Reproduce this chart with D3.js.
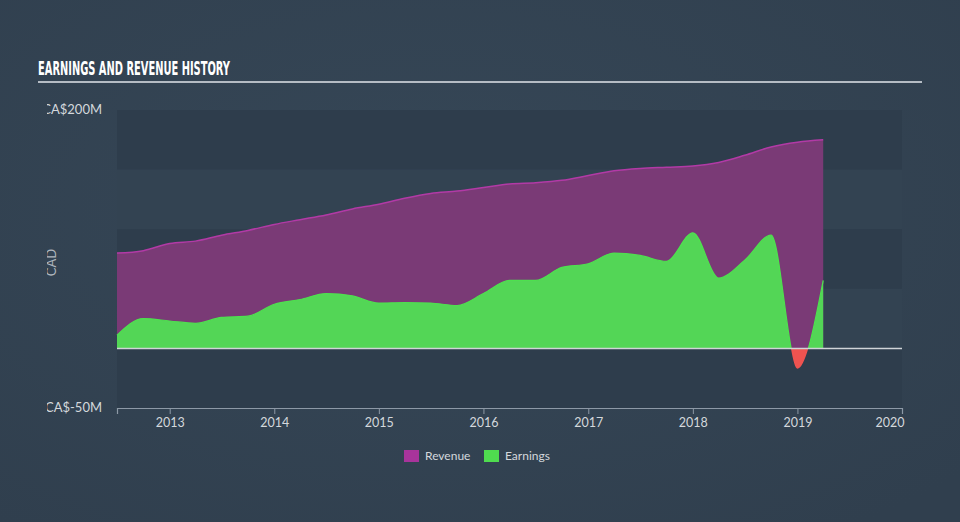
<!DOCTYPE html>
<html><head><meta charset="utf-8">
<script src="https://cdn.jsdelivr.net/npm/d3@7"></script>
<style>html,body{margin:0;padding:0;background:#344454;}svg{display:block;}</style>
</head><body>
<svg id="c" width="960" height="522"></svg>
<script>
const dates = ["2012-07-01","2012-10-01","2013-01-01","2013-04-01","2013-07-01","2013-10-01",
"2014-01-01","2014-04-01","2014-07-01","2014-10-01","2015-01-01","2015-04-01","2015-07-01","2015-10-01",
"2016-01-01","2016-04-01","2016-07-01","2016-10-01","2017-01-01","2017-04-01","2017-07-01","2017-10-01",
"2018-01-01","2018-04-01","2018-07-01","2018-10-01","2019-01-01","2019-04-01"];
const revenue = [80,82,88,90,95,99,104,108,112,117,121,126,130,132,135,138,139,141,145,149,151,152,153,156,162,169,173,175];
const earnings = [11,25,23,21,26,27,37,41,46,44,38,38.5,38,36,46,57,57,68,71,80,78,73,97,59,74,95,-17,57];
const yTicks = [200,-50];
const yTickLabels = ["CA$200M","CA$-50M"];
const xTickYears = [2013,2014,2015,2016,2017,2018,2019,2020];
const bandEdges = [200,150,100,50,0,-50];

const svg = d3.select("#c");
const W=960,H=522;
const L=117,R=902,T=110,B=408;
const parse = d3.timeParse("%Y-%m-%d");
const data = dates.map((d,i)=>({date:parse(d),rev:revenue[i],earn:earnings[i]}));

const defs = svg.append("defs");
const g0 = defs.append("radialGradient").attr("id","bg").attr("cx","45%").attr("cy","40%").attr("r","75%");
g0.append("stop").attr("offset","0%").attr("stop-color","#364757");
g0.append("stop").attr("offset","100%").attr("stop-color","#303f4e");
svg.append("rect").attr("width",W).attr("height",H).attr("fill","url(#bg)");

const x = d3.scaleTime().domain([new Date(2012,6,1),new Date(2020,0,1)]).range([L,R]);
const y = d3.scaleLinear().domain([-50,200]).range([B,T]);

// bands
for(let i=0;i<bandEdges.length-1;i++){
  svg.append("rect").attr("x",L).attr("width",R-L)
    .attr("y",y(bandEdges[i])).attr("height",y(bandEdges[i+1])-y(bandEdges[i]))
    .attr("fill", i%2===0 ? "#2e3d4c" : "#334352");
}

// title
svg.append("text").attr("x",38).attr("y",75).text("EARNINGS AND REVENUE HISTORY")
  .attr("fill","#ffffff").attr("font-family","'Liberation Sans Narrow','DejaVu Sans Condensed',sans-serif")
  .attr("font-weight","bold").attr("font-size",19)
  .attr("textLength",192).attr("lengthAdjust","spacingAndGlyphs");
svg.append("line").attr("x1",38).attr("x2",922).attr("y1",82).attr("y2",82)
  .attr("stroke","#b5bcc4").attr("stroke-width",2);

// revenue
const curve = d3.curveMonotoneX;
const areaRev = d3.area().x(d=>x(d.date)).y0(y(0)).y1(d=>y(d.rev)).curve(curve);
const lineRev = d3.line().x(d=>x(d.date)).y(d=>y(d.rev)).curve(curve);
svg.append("path").datum(data).attr("d",areaRev).attr("fill","#7a3a76");
svg.append("path").datum(data).attr("d",lineRev).attr("fill","none").attr("stroke","#b23aa6").attr("stroke-width",1.5);

// earnings
defs.append("clipPath").attr("id","pos").append("rect").attr("x",0).attr("y",0).attr("width",W).attr("height",y(0));
defs.append("clipPath").attr("id","neg").append("rect").attr("x",0).attr("y",y(0)).attr("width",W).attr("height",H-y(0));
const areaE = d3.area().x(d=>x(d.date)).y0(y(0)).y1(d=>y(d.earn)).curve(curve);
const lineE = d3.line().x(d=>x(d.date)).y(d=>y(d.earn)).curve(curve);
svg.append("path").datum(data).attr("d",areaE).attr("fill","#53d656").attr("clip-path","url(#pos)");
svg.append("path").datum(data).attr("d",lineE).attr("fill","none").attr("stroke","#4ee04f").attr("stroke-width",1.2).attr("clip-path","url(#pos)");
svg.append("path").datum(data).attr("d",areaE).attr("fill","#ee5350").attr("clip-path","url(#neg)");

// zero line
svg.append("line").attr("x1",L).attr("x2",R).attr("y1",y(0)).attr("y2",y(0)).attr("stroke","#d0d4d8").attr("stroke-width",1.5);

// x axis
const xAxis = d3.axisBottom(x).tickValues(xTickYears.map(yv=>new Date(yv,0,1))).tickFormat(d3.timeFormat("%Y")).tickSize(6).tickPadding(4);
const gx = svg.append("g").attr("transform",`translate(0,${B})`).call(xAxis);
gx.select(".domain").attr("stroke","#8d99a6").attr("stroke-width",1.2);
gx.selectAll(".tick line").attr("stroke","#8d99a6");
gx.selectAll(".tick text").attr("fill","#d4d8dc").attr("font-size",12.5).attr("font-family","Lato,'Open Sans',sans-serif");
gx.selectAll(".tick").filter(d=>d.getFullYear()===2020).select("text").attr("text-anchor","end").attr("dx",2);

// y labels (clipped)
defs.append("clipPath").attr("id","ylab").append("rect").attr("x",47).attr("y",0).attr("width",70).attr("height",H);
const gy = svg.append("g").attr("clip-path","url(#ylab)");
yTicks.forEach((v,i)=>{
  gy.append("text").attr("x",102).attr("y",y(v)).attr("dy","0.3em").attr("text-anchor","end")
    .attr("fill","#d4d8dc").attr("font-size",13).attr("font-family","Lato,'Open Sans',sans-serif").text(yTickLabels[i]);
});
gy.append("text").attr("transform",`translate(56,${y(72)}) rotate(-90)`).attr("text-anchor","middle")
  .attr("fill","#aeb6be").attr("font-size",13).attr("font-family","Lato,'Open Sans',sans-serif").text("CAD");

// legend
const legend = [{name:"Revenue",color:"#a8349b",x:404},{name:"Earnings",color:"#4fdc4f",x:484}];
legend.forEach(l=>{
  svg.append("rect").attr("x",l.x).attr("y",450).attr("width",15).attr("height",12).attr("fill",l.color);
  svg.append("text").attr("x",l.x+21).attr("y",460).text(l.name).attr("fill","#d4d8dc")
    .attr("font-size",12).attr("font-family","Lato,'Open Sans',sans-serif");
});
</script>
</body></html>
